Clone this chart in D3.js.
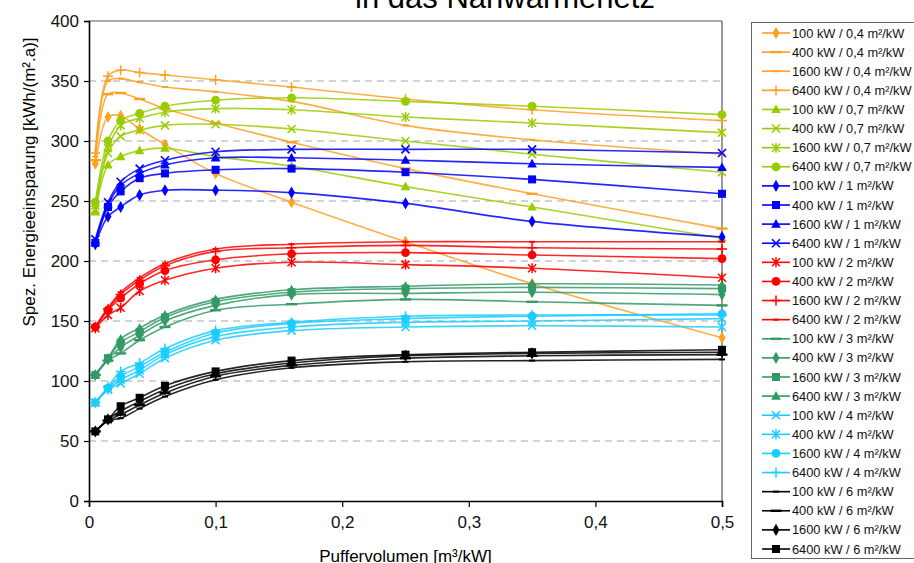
<!DOCTYPE html>
<html><head><meta charset="utf-8">
<script src="https://cdn.jsdelivr.net/npm/d3@7/dist/d3.min.js"></script>
<style>body{margin:0;background:#fff}svg{display:block;font-family:"Liberation Sans",Arial,sans-serif}</style>
</head><body>
<svg id="c" width="914" height="563"></svg>
<script>
// ---- data ----
const xValues = [0.005, 0.015, 0.025, 0.04, 0.06, 0.1, 0.16, 0.25, 0.35, 0.5];
const yTicks = [0, 50, 100, 150, 200, 250, 300, 350, 400];
const xTicks = [0, 0.1, 0.2, 0.3, 0.4, 0.5];
const powers = ["100 kW", "400 kW", "1600 kW", "6400 kW"];
const areas = ["0,4", "0,7", "1", "2", "3", "4", "6"];

const a04_100  = [281, 320, 321, 310, 297, 273, 249, 216, 181, 136];
const a04_400  = [284, 339, 340, 335, 327, 315, 299, 277, 256, 227];
const a04_1600 = [287, 350, 352, 349, 345, 341, 333, 313, 301, 289];
const a04_6400 = [290, 354, 359, 357, 355, 351, 345, 335, 326, 317];

const a07_100  = [241, 280, 287, 292, 294, 287, 279, 262, 245, 219];
const a07_400  = [243, 290, 304, 309, 313, 314, 310, 300, 289, 274];
const a07_1600 = [246, 294, 313, 319, 324, 327, 326, 320, 315, 307];
const a07_6400 = [249, 300, 317, 323, 329, 334, 336, 333, 329, 322];

const a1_100  = [214, 237, 245, 255, 259, 259, 257, 248, 233, 220];
const a1_400  = [215, 245, 258, 269, 273, 276, 277, 274, 268, 256];
const a1_1600 = [216, 247, 263, 273, 280, 286, 286, 284, 281, 278];
const a1_6400 = [218, 249, 266, 277, 284, 291, 293, 293, 293, 290];

const a2_100  = [144, 155, 161, 175, 184, 194, 199, 197, 194, 186];
const a2_400  = [145, 159, 169, 181, 192, 201, 206, 207, 205, 202];
const a2_1600 = [145, 160, 172, 184, 196, 208, 211, 213, 211, 210];
const a2_6400 = [145, 161, 174, 186, 198, 210, 214, 216, 216, 216];

const a3_100  = [105, 117, 123, 134, 145, 159, 164, 168, 166, 163];
const a3_400  = [105, 118, 128, 138, 150, 163, 172, 173, 174, 172];
const a3_1600 = [105, 119, 132, 141, 153, 166, 174, 177, 178, 177];
const a3_6400 = [105, 119, 135, 144, 155, 168, 176, 179, 181, 180];

const a4_100  = [82, 93, 98, 106, 119, 134, 142, 145, 146, 145];
const a4_400  = [82, 93, 101, 109, 122, 137, 145, 149, 150, 152];
const a4_1600 = [82, 94, 104, 112, 124, 140, 148, 152, 154, 156];
const a4_6400 = [82, 95, 108, 115, 127, 142, 149, 154, 155, 155];

const a6_100  = [58, 67, 69, 77, 87, 101, 111, 116, 117, 118];
const a6_400  = [58, 67, 72, 80, 90, 104, 113, 119, 121, 122];
const a6_1600 = [58, 68, 75, 83, 93, 106, 115, 121, 123, 124];
const a6_6400 = [58, 68, 79, 86, 96, 108, 117, 122, 124, 126];

const groupValues = [
  [a04_100, a04_400, a04_1600, a04_6400],
  [a07_100, a07_400, a07_1600, a07_6400],
  [a1_100, a1_400, a1_1600, a1_6400],
  [a2_100, a2_400, a2_1600, a2_6400],
  [a3_100, a3_400, a3_1600, a3_6400],
  [a4_100, a4_400, a4_1600, a4_6400],
  [a6_100, a6_400, a6_1600, a6_6400]
];

// ---- styles ----
const groupColors = ["#ffa020", "#99cc00", "#0000ff", "#ff0000", "#339966", "#1ccdff", "#000000"];
const groupMarkers = [
  ["diamond", "dash", "sdash", "plus"],
  ["triangle", "x", "star", "circle"],
  ["diamond", "square", "triangle", "x"],
  ["star", "circle", "plus", "sdash"],
  ["dash", "diamond", "square", "triangle"],
  ["x", "star", "circle", "plus"],
  ["sdash", "dash", "diamond", "square"]
];

const series = [];
groupValues.forEach((g, gi) => g.forEach((vals, pi) => {
  series.push({
    label: powers[pi] + " / " + areas[gi] + " m²/kW",
    values: vals,
    color: groupColors[gi],
    marker: groupMarkers[gi][pi]
  });
}));

const svg = d3.select("#c");
const L = 89, R = 722, T = 21, B = 501;
const x = d3.scaleLinear().domain([0, 0.5]).range([L, R]);
const y = d3.scaleLinear().domain([0, 400]).range([B, T]);

// title (partially cut off at top, as in the reference)
svg.append("text").attr("x", 505).attr("y", 8).attr("text-anchor", "middle")
  .attr("font-size", 31).attr("fill", "#000").text("in das Nahwärmenetz");

// grid
svg.append("g").selectAll("line").data(yTicks.filter(d => d > 0 && d < 400)).join("line")
  .attr("x1", L).attr("x2", R).attr("y1", d => y(d)).attr("y2", d => y(d))
  .attr("stroke", "#a8a8a8").attr("stroke-width", 1.2).attr("stroke-dasharray", "7,5");

// frame top & right
svg.append("line").attr("x1", L).attr("x2", R).attr("y1", T).attr("y2", T).attr("stroke", "#555").attr("stroke-width", 1.2);
svg.append("line").attr("x1", R).attr("x2", R).attr("y1", T).attr("y2", B).attr("stroke", "#777").attr("stroke-width", 1.5);

// axes
const yAxis = d3.axisLeft(y).tickValues(yTicks).tickSize(5).tickFormat(d3.format("d"));
const gy = svg.append("g").attr("transform", `translate(${L},0)`).call(yAxis);
const xAxis = d3.axisBottom(x).tickValues(xTicks).tickSize(6)
  .tickFormat(d => d === 0 ? "0" : d3.format(".1f")(d).replace(".", ","));
const gx = svg.append("g").attr("transform", `translate(0,${B})`).call(xAxis);
[gx, gy].forEach(g => {
  g.select(".domain").attr("stroke", "#000").attr("stroke-width", 1.6);
  g.selectAll(".tick line").attr("stroke", "#000").attr("stroke-width", 1.2);
  g.selectAll("text").attr("font-size", 17).attr("fill", "#111").attr("font-family", "Liberation Sans, Arial, sans-serif");
});
gy.selectAll("text").attr("x", -10);
gx.selectAll("text").attr("y", 15);

// axis titles
svg.append("text").attr("x", x(0.25)).attr("y", 562).attr("text-anchor", "middle")
  .attr("font-size", 17).text("Puffervolumen [m³/kW]");
svg.append("text").attr("transform", "translate(35,182) rotate(-90)").attr("text-anchor", "middle")
  .attr("font-size", 17).text("Spez. Energieeinsparung [kWh/(m².a)]");

// marker drawing
function drawMarker(g, type, cx, cy, color) {
  const s = g.append("g").attr("transform", `translate(${cx},${cy})`);
  switch (type) {
    case "diamond":
      s.append("path").attr("d", d3.symbol(d3.symbolDiamond, 42)()).attr("fill", color); break;
    case "square":
      s.append("rect").attr("x", -4).attr("y", -4).attr("width", 8).attr("height", 8).attr("fill", color); break;
    case "triangle":
      s.append("path").attr("d", "M0,-5L4.8,3.6L-4.8,3.6Z").attr("fill", color); break;
    case "circle":
      s.append("circle").attr("r", 4.4).attr("fill", color); break;
    case "x":
      s.append("path").attr("d", "M-4,-4L4,4M-4,4L4,-4").attr("stroke", color).attr("stroke-width", 1.6).attr("fill", "none"); break;
    case "star":
      s.append("path").attr("d", "M-4,-4L4,4M-4,4L4,-4M0,-5L0,5").attr("stroke", color).attr("stroke-width", 1.5).attr("fill", "none"); break;
    case "plus":
      s.append("path").attr("d", "M-5,0L5,0M0,-5L0,5").attr("stroke", color).attr("stroke-width", 1.5).attr("fill", "none"); break;
    case "dash":
      s.append("path").attr("d", "M-5.5,0L5.5,0").attr("stroke", color).attr("stroke-width", 2.4).attr("fill", "none"); break;
    case "sdash":
      s.append("path").attr("d", "M-3,0L3,0").attr("stroke", color).attr("stroke-width", 2).attr("fill", "none"); break;
  }
}

// lines
const line = d3.line().x(d => x(d[0])).y(d => y(d[1])).curve(d3.curveCatmullRom.alpha(0.5));
const plot = svg.append("g");
series.forEach(s => {
  const pts = xValues.map((xv, i) => [xv, s.values[i]]);
  const g = plot.append("g");
  g.append("path").attr("d", line(pts)).attr("fill", "none").attr("stroke", s.color)
    .attr("stroke-width", 1.6).attr("stroke-opacity", 0.85);
  pts.forEach(p => drawMarker(g, s.marker, x(p[0]), y(p[1]), s.color));
});

// legend
const lg = svg.append("g");
lg.append("rect").attr("x", 751.5).attr("y", 22.5).attr("width", 180).attr("height", 536)
  .attr("fill", "#fff").attr("stroke", "#666").attr("stroke-width", 1);
const step = (549 - 33) / 27;
series.forEach((s, i) => {
  const yy = 33 + i * step;
  lg.append("line").attr("x1", 762).attr("x2", 790).attr("y1", yy).attr("y2", yy)
    .attr("stroke", s.color).attr("stroke-width", 1.6);
  drawMarker(lg, s.marker, 776, yy, s.color);
  lg.append("text").attr("x", 792).attr("y", yy + 4.5).attr("font-size", 12.8).attr("fill", "#111").text(s.label);
});
</script>
</body></html>
